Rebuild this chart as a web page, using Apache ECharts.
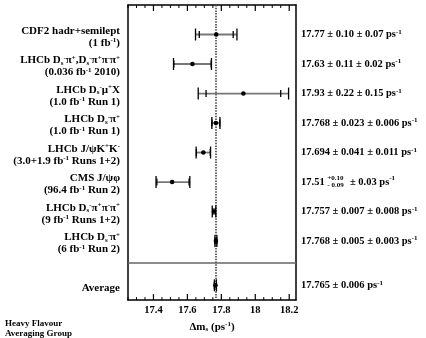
<!DOCTYPE html>
<html>
<head>
<meta charset="utf-8">
<script src="https://cdn.jsdelivr.net/npm/echarts@6/dist/echarts.min.js"></script>
<style>
html,body{margin:0;padding:0;background:#fff;}
#chart{width:426px;height:338px;}
</style>
</head>
<body>
<div id="chart"></div>
<script>
// ---- data ----
const leftLabels = [
  'CDF2 hadr+semilept\n(1 fb{sup|-1})',
  'LHCb D{sub|s}{sup|-}π{sup|+},D{sub|s}{sup|-}π{sup|+}π{sup|-}π{sup|+}\n(0.036 fb{sup|-1} 2010)',
  'LHCb D{sub|s}{sup|-}μ{sup|+}X\n(1.0 fb{sup|-1} Run 1)',
  'LHCb D{sub|s}{sup|-}π{sup|+}\n(1.0 fb{sup|-1} Run 1)',
  'LHCb J/ψK{sup|+}K{sup|-}\n(3.0+1.9 fb{sup|-1} Runs 1+2)',
  'CMS J/ψφ\n(96.4 fb{sup|-1} Run 2)',
  'LHCb D{sub|s}{sup|-}π{sup|+}π{sup|-}π{sup|+}\n(9 fb{sup|-1} Runs 1+2)',
  'LHCb D{sub|s}{sup|-}π{sup|+}\n(6 fb{sup|-1} Run 2)',
  'Average'
];
const rightLabels = [
  '17.77 ± 0.10 ± 0.07 ps{sup|-1}',
  '17.63 ± 0.11 ± 0.02 ps{sup|-1}',
  '17.93 ± 0.22 ± 0.15 ps{sup|-1}',
  '17.768 ± 0.023 ± 0.006 ps{sup|-1}',
  '17.694 ± 0.041 ± 0.011 ps{sup|-1}',
  '17.51 {up|+0.10}{dn|- 0.09} ± 0.03 ps{sup|-1}',
  '17.757 ± 0.007 ± 0.008 ps{sup|-1}',
  '17.768 ± 0.005 ± 0.003 ps{sup|-1}',
  '17.765 ± 0.006 ps{sup|-1}'
];
const values  = [17.77, 17.63, 17.93, 17.768, 17.694, 17.51, 17.757, 17.768, 17.765];
const statUp  = [0.10, 0.11, 0.22, 0.023, 0.041, 0.10, 0.007, 0.005, 0.006];
const statDn  = [0.10, 0.11, 0.22, 0.023, 0.041, 0.09, 0.007, 0.005, 0.006];
const syst    = [0.07, 0.02, 0.15, 0.006, 0.011, 0.03, 0.008, 0.003, 0];
const xTickLabels = [17.4, 17.6, 17.8, 18, 18.2];
const averageValue = 17.765;

// ---- layout helpers ----
const XMIN = 17.25, XMAX = 18.24, MINOR_STEP = 0.05;
const GRID = {left: 128, right: 130, top: 5, bottom: 37};
const n = values.length;
const rowPos = values.map((v, i) => i < n - 1 ? i + 1 : 9.5);
const SEP = 8.75;
const FONT = "'Liberation Serif', 'DejaVu Serif', serif";

const data = values.map((v, i) => {
  const tUp = Math.sqrt(statUp[i] * statUp[i] + syst[i] * syst[i]);
  const tDn = Math.sqrt(statDn[i] * statDn[i] + syst[i] * syst[i]);
  return [v, rowPos[i], v - statDn[i], v + statUp[i], v - tDn, v + tUp];
});

// axis tick positions (minor every 0.05, major at labelled values)
const tickData = [];
for (let k = 0; XMIN + k * MINOR_STEP <= XMAX + 1e-9; k++) {
  const t = +(XMIN + k * MINOR_STEP).toFixed(2);
  const major = xTickLabels.some(m => Math.abs(m - t) < 1e-6) ? 1 : 0;
  tickData.push([t, 5, major]);
}

function richSet(size) {
  return {
    sup: {fontFamily: FONT, fontWeight: 'bold', fontSize: Math.round(size * 0.62), verticalAlign: 'top', color: '#000', lineHeight: 12},
    sub: {fontFamily: FONT, fontWeight: 'bold', fontSize: Math.round(size * 0.62), verticalAlign: 'bottom', color: '#000', lineHeight: 12},
    up: {fontFamily: FONT, fontWeight: 'bold', fontSize: 7, verticalAlign: 'top', color: '#000', lineHeight: 14, width: 0.1},
    dn: {fontFamily: FONT, fontWeight: 'bold', fontSize: 7, verticalAlign: 'bottom', color: '#000', lineHeight: 14, width: 20}
  };
}

function isRow(v) { return rowPos.findIndex(p => Math.abs(p - v) < 1e-6); }

const chart = echarts.init(document.getElementById('chart'), null, {renderer: 'canvas'});

const noLine = {show: false, onZero: false};
const frameLine = {show: true, onZero: false, lineStyle: {color: '#000', width: 1.5}};
const xAxisBase = {type: 'value', min: XMIN, max: XMAX, splitLine: {show: false}, axisLine: noLine};

const option = {
  animation: false,
  backgroundColor: '#fff',
  grid: Object.assign({show: false}, GRID),
  xAxis: [
    Object.assign({}, xAxisBase, {
      position: 'bottom',
      axisLine: frameLine,
      axisTick: {show: false},
      axisLabel: {show: true, customValues: xTickLabels, formatter: v => String(+v.toFixed(1)), fontFamily: FONT, fontWeight: 'bold', fontSize: 10.5, color: '#000', margin: 5},
      name: 'Δm{sub|s} (ps{sup|-1})',
      nameLocation: 'middle',
      nameGap: 19,
      nameTextStyle: {fontFamily: FONT, fontWeight: 'bold', fontSize: 11, color: '#000', rich: richSet(11)}
    }),
    Object.assign({}, xAxisBase, {
      position: 'top', axisLine: frameLine, axisTick: {show: false}, axisLabel: {show: false}
    })
  ],
  yAxis: [
    {
      type: 'value', inverse: true, min: 0, max: 10, interval: 0.5, position: 'left',
      axisLine: frameLine, axisTick: {show: false}, splitLine: {show: false},
      axisLabel: {
        show: true, margin: 8, padding: [5, 0, 0, 0],
        formatter: v => { const i = isRow(v); return i >= 0 ? leftLabels[i] : ''; },
        fontFamily: FONT, fontWeight: 'bold', fontSize: 11, color: '#000', lineHeight: 12, align: 'right',
        rich: richSet(11)
      }
    },
    {
      type: 'value', inverse: true, min: 0, max: 10, interval: 0.5, position: 'right',
      axisLine: frameLine, axisTick: {show: false}, splitLine: {show: false},
      axisLabel: {
        show: true, margin: 5,
        formatter: v => { const i = isRow(v); return i >= 0 ? rightLabels[i] : ''; },
        fontFamily: FONT, fontWeight: 'bold', fontSize: 10.5, color: '#000', lineHeight: 12, align: 'left',
        rich: richSet(10.5)
      }
    }
  ],
  series: [
    {
      type: 'line', xAxisIndex: 0, yAxisIndex: 0, data: [], symbol: 'none',
      markLine: {
        silent: true, symbol: 'none', label: {show: false},
        data: [
          {yAxis: SEP, lineStyle: {color: '#666', width: 1.5, type: 'solid'}},
          {xAxis: averageValue, lineStyle: {color: '#444', width: 1.6, type: [1.5, 1.2]}}
        ]
      }
    },
    {
      // axis ticks on bottom and top frame edges, placed through the x scale
      type: 'custom', xAxisIndex: 0, yAxisIndex: 0, data: tickData, silent: true, clip: false,
      renderItem: function (params, api) {
        const x = api.coord([api.value(0), api.value(1)])[0];
        const cs = params.coordSys;
        const len = api.value(2) ? 6 : 3;
        const w = api.value(2) ? 1.2 : 1;
        const top = cs.y, bot = cs.y + cs.height;
        return {
          type: 'group',
          children: [
            {type: 'line', shape: {x1: x, y1: bot, x2: x, y2: bot - len}, style: {stroke: '#000', lineWidth: w}},
            {type: 'line', shape: {x1: x, y1: top, x2: x, y2: top + len}, style: {stroke: '#000', lineWidth: w}}
          ]
        };
      },
      z: 4
    },
    {
      type: 'custom', xAxisIndex: 0, yAxisIndex: 0, data: data,
      renderItem: function (params, api) {
        const y = api.coord([api.value(0), api.value(1)])[1];
        const x = api.coord([api.value(0), api.value(1)])[0];
        const sLo = api.coord([api.value(2), api.value(1)])[0];
        const sHi = api.coord([api.value(3), api.value(1)])[0];
        const tLo = api.coord([api.value(4), api.value(1)])[0];
        const tHi = api.coord([api.value(5), api.value(1)])[0];
        const capStyle = {stroke: '#000', lineWidth: 1.3};
        return {
          type: 'group',
          children: [
            {type: 'line', shape: {x1: tLo, y1: y, x2: tHi, y2: y}, style: {stroke: '#777', lineWidth: 1.8}},
            {type: 'line', shape: {x1: tLo, y1: y - 6, x2: tLo, y2: y + 6}, style: capStyle},
            {type: 'line', shape: {x1: tHi, y1: y - 6, x2: tHi, y2: y + 6}, style: capStyle},
            {type: 'line', shape: {x1: sLo, y1: y - 3.5, x2: sLo, y2: y + 3.5}, style: capStyle},
            {type: 'line', shape: {x1: sHi, y1: y - 3.5, x2: sHi, y2: y + 3.5}, style: capStyle},
            {type: 'circle', shape: {cx: x, cy: y, r: 2.3}, style: {fill: '#000'}}
          ]
        };
      },
      z: 5
    }
  ],
  graphic: [
    {type: 'text', left: 5, top: 318, style: {text: 'Heavy Flavour\nAveraging Group', font: "bold 9px 'Liberation Serif', serif", fill: '#000', lineHeight: 10.5}}
  ]
};
chart.setOption(option);
</script>
</body>
</html>
